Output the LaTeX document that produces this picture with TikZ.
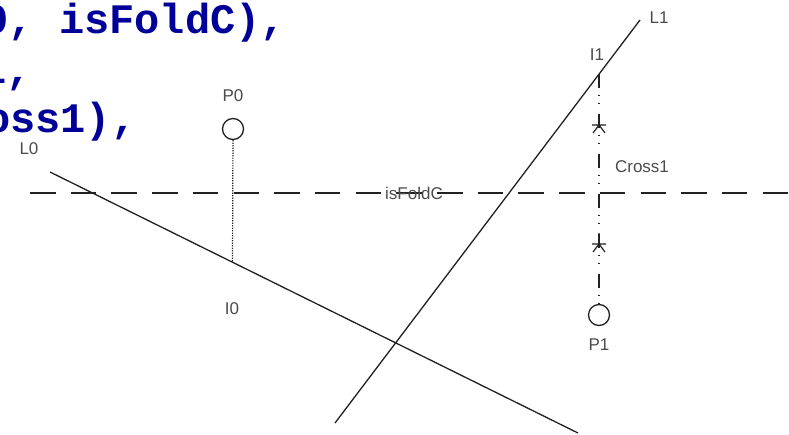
\documentclass[tikz,border=0pt]{standalone}
\usepackage{fontspec}
\setsansfont{Liberation Sans}
\newfontfamily\codefont{Liberation Mono}
\usetikzlibrary{positioning}
\definecolor{CodeBlue}{rgb}{0.0, 0.0, 0.6}
\definecolor{LabelGray}{rgb}{0.3, 0.3, 0.3}
\definecolor{LineGray}{rgb}{0.13, 0.13, 0.13}

\begin{document}
\begin{tikzpicture}[x=1pt, y=-1pt, font=\sffamily,
    lbl/.style={text=LabelGray, inner sep=0pt, font=\sffamily\fontsize{17}{20}\selectfont},
    code/.style={text=CodeBlue, inner sep=0pt, anchor=base west,
        font=\codefont\bfseries\fontsize{42}{50}\selectfont},
    ln/.style={draw=LineGray, line width=1.3pt},
    pnt/.style={circle, draw=LineGray, line width=1.3pt, minimum size=21pt, inner sep=0pt},
    crossmark/.pic={\draw[LineGray, line width=1.2pt] (0,0) -- (0,11) (-7,11) -- (7,11)
        (-6,19) -- (0,11) -- (6,19);}]

\clip (0,0) rectangle (789,434);
\fill[white] (0,0) rectangle (789,434);

% code lines, cut at the left edge
\node[code] (line1) at (-16.7,33) {0, isFoldC),};
\node[code] (line2) at (-19,83) {1,};
\node[code] (line3) at (-15,132) {oss1),};

% lines and points
\coordinate (L0a) at (50,172);
\coordinate (L0b) at (578,433);
\coordinate (L1a) at (335,423);
\coordinate (L1b) at (640,20);
\coordinate (fold0) at (30,193);
\coordinate (fold1) at (789,193);
\coordinate (I0) at (232.5,262);
\coordinate (I1) at (599,74);
\coordinate (Cross1) at (599,193);

\node[pnt] (P0) at (233,129) {};
\node[pnt] (P1) at (599,315) {};

\draw[ln] (L0a) -- (L0b);
\draw[ln] (L1a) -- (L1b);
\draw[ln, dash pattern=on 25.5pt off 15.2pt] (fold0) -- (fold1);
\draw[ln, line width=1.2pt, dash pattern=on 1.2pt off 1.3pt] (P0) -- (I0);
\draw[ln, line width=1.2pt, dash pattern=on 14pt off 6.5pt on 1.5pt off 6.5pt on 1.5pt off 10pt]
    (I1) -- (P1);
\path (I1) ++(0,40) pic {crossmark};
\path (Cross1) ++(0,40) pic {crossmark};

% labels
\node[lbl, above=16pt of P0] (labP0) {P0};
\node[lbl, below=12pt of P1] (labP1) {P1};
\node[lbl] (labL0) at (29,149) {L0};
\node[lbl] (labL1) at (659,18) {L1};
\node[lbl] (labI0) at (232,309) {I0};
\node[lbl] (labI1) at (597,55) {I1};
\node[lbl] (labCross1) at (642,167) {Cross1};
\node[lbl] (labFold) at (414,193) {isFoldC};

\end{tikzpicture}
\end{document}
